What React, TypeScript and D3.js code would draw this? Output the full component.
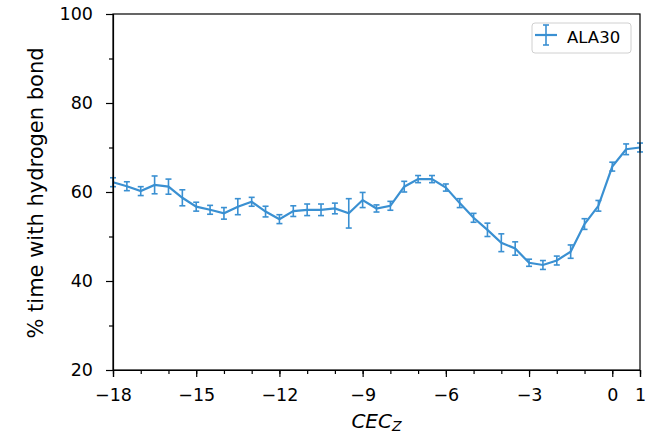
import React, { useEffect, useRef } from 'react';
import * as d3 from 'd3';

// x positions (CEC_z), one point every 0.5
const cecZ = d3.range(-18, 1.01, 0.5);

// % time with hydrogen bond
const hbondPct = [
  62.2, 61.3, 60.2, 61.6, 61.2, 58.7, 56.7, 56.0, 55.2, 56.7,
  57.8, 55.6, 53.9, 55.7, 56.0, 56.0, 56.3, 55.2, 58.2, 56.3,
  56.9, 61.2, 62.9, 62.9, 61.0, 57.5, 54.2, 51.5, 48.6, 47.3,
  44.1, 43.6, 44.6, 46.6, 52.8, 56.9, 65.7, 69.6, 70.0,
];

// error bar half-heights
const hbondErr = [
  1.0, 1.0, 1.0, 2.0, 1.7, 1.8, 1.0, 1.0, 1.3, 1.8,
  1.0, 1.2, 1.0, 1.2, 1.3, 1.3, 1.2, 3.3, 1.7, 0.8,
  1.0, 1.2, 0.8, 0.8, 0.8, 1.0, 1.0, 1.5, 2.0, 1.5,
  0.8, 1.0, 1.0, 1.5, 1.2, 1.2, 1.0, 1.2, 1.0,
];

const xTicks = [-18, -15, -12, -9, -6, -3, 0, 1];
const xMinorTicks = d3.range(-18, 2, 1);
const yTicks = [20, 40, 60, 80, 100];
const yMinorTicks = [30, 50, 70, 90];

const seriesName = 'ALA30';

const App = () => {
  const svgRef = useRef<SVGSVGElement>(null);

  useEffect(() => {
    const width = 649;
    const height = 436;
    const margin = { top: 14, right: 9, bottom: 66, left: 113 };
    const blue = '#3a90d2';
    const font = 'DejaVu Sans, sans-serif';

    const svg = d3.select(svgRef.current);
    svg.selectAll('*').remove();
    svg.attr('width', width).attr('height', height);

    const x = d3.scaleLinear().domain([-18, 1]).range([margin.left, width - margin.right]);
    const y = d3.scaleLinear().domain([20, 100]).range([height - margin.bottom, margin.top]);

    const data = cecZ.map((v, i) => ({ x: v, y: hbondPct[i], e: hbondErr[i] }));

    // series line
    const line = d3.line<{ x: number; y: number }>().x(d => x(d.x)).y(d => y(d.y));
    svg.append('path')
      .datum(data)
      .attr('d', line)
      .attr('fill', 'none')
      .attr('stroke', blue)
      .attr('stroke-width', 2.2);

    // error bars
    const eb = svg.append('g').attr('stroke', blue).attr('stroke-width', 1.6);
    eb.selectAll('line.v')
      .data(data)
      .join('line')
      .attr('class', 'v')
      .attr('x1', d => x(d.x)).attr('x2', d => x(d.x))
      .attr('y1', d => y(d.y - d.e)).attr('y2', d => y(d.y + d.e));
    ['lo', 'hi'].forEach(k => {
      eb.selectAll(`line.${k}`)
        .data(data)
        .join('line')
        .attr('class', k)
        .attr('x1', d => x(d.x) - 3).attr('x2', d => x(d.x) + 3)
        .attr('y1', d => y(k === 'lo' ? d.y - d.e : d.y + d.e))
        .attr('y2', d => y(k === 'lo' ? d.y - d.e : d.y + d.e));
    });

    // axes
    const xAxis = svg.append('g')
      .attr('transform', `translate(0,${height - margin.bottom})`)
      .call(d3.axisBottom(x).tickValues(xTicks).tickSize(7).tickPadding(12)
        .tickFormat(d => (+d < 0 ? '\u2212' + Math.abs(+d) : String(d))));
    svg.append('g')
      .attr('transform', `translate(0,${height - margin.bottom})`)
      .call(d3.axisBottom(x).tickValues(xMinorTicks).tickSize(4).tickFormat(() => ''))
      .call(g => g.select('.domain').remove());

    const yAxis = svg.append('g')
      .attr('transform', `translate(${margin.left},0)`)
      .call(d3.axisLeft(y).tickValues(yTicks).tickSize(7).tickPadding(13));
    svg.append('g')
      .attr('transform', `translate(${margin.left},0)`)
      .call(d3.axisLeft(y).tickValues(yMinorTicks).tickSize(4).tickFormat(() => ''))
      .call(g => g.select('.domain').remove());

    [xAxis, yAxis].forEach(g => {
      g.selectAll('text')
        .style('font-size', '17.5px')
        .style('font-family', font)
        .attr('fill', '#000');
      g.select('.domain').attr('stroke', '#000').attr('stroke-width', 1.2);
    });
    svg.selectAll('.tick line').attr('stroke', '#000').attr('stroke-width', 1.2);

    // top and right spines
    svg.append('rect')
      .attr('x', margin.left).attr('y', margin.top)
      .attr('width', width - margin.left - margin.right)
      .attr('height', height - margin.top - margin.bottom)
      .attr('fill', 'none').attr('stroke', '#000').attr('stroke-width', 1.2);

    // axis labels
    const xl = svg.append('text')
      .attr('x', (margin.left + width - margin.right) / 2)
      .attr('y', 428)
      .attr('text-anchor', 'middle')
      .style('font-family', font)
      .style('font-size', '20px')
      .attr('font-style', 'italic');
    xl.append('tspan').text('CEC');
    xl.append('tspan').attr('dy', 3).style('font-size', '14px').text('Z');

    svg.append('text')
      .attr('transform', `translate(43,193) rotate(-90)`)
      .attr('text-anchor', 'middle')
      .style('font-family', font)
      .style('font-size', '21px')
      .text('% time with hydrogen bond');

    // legend
    const lg = svg.append('g').attr('transform', 'translate(532,23)');
    lg.append('rect')
      .attr('width', 99).attr('height', 30).attr('rx', 3)
      .attr('fill', '#fff').attr('stroke', '#d0d0d0').attr('stroke-width', 1);
    lg.append('line').attr('x1', 3).attr('x2', 25).attr('y1', 12).attr('y2', 12)
      .attr('stroke', blue).attr('stroke-width', 2.2);
    lg.append('line').attr('x1', 14).attr('x2', 14).attr('y1', 2).attr('y2', 22)
      .attr('stroke', blue).attr('stroke-width', 1.6);
    [2, 22].forEach(cy => {
      lg.append('line').attr('x1', 11).attr('x2', 17).attr('y1', cy).attr('y2', cy)
        .attr('stroke', blue).attr('stroke-width', 1.6);
    });
    lg.append('text')
      .attr('x', 35).attr('y', 19.7)
      .style('font-family', font).style('font-size', '16.5px')
      .text(seriesName);
  }, []);

  return <svg ref={svgRef} style={{ position: 'absolute', left: 0, top: 0 }}></svg>;
};

export default App;
